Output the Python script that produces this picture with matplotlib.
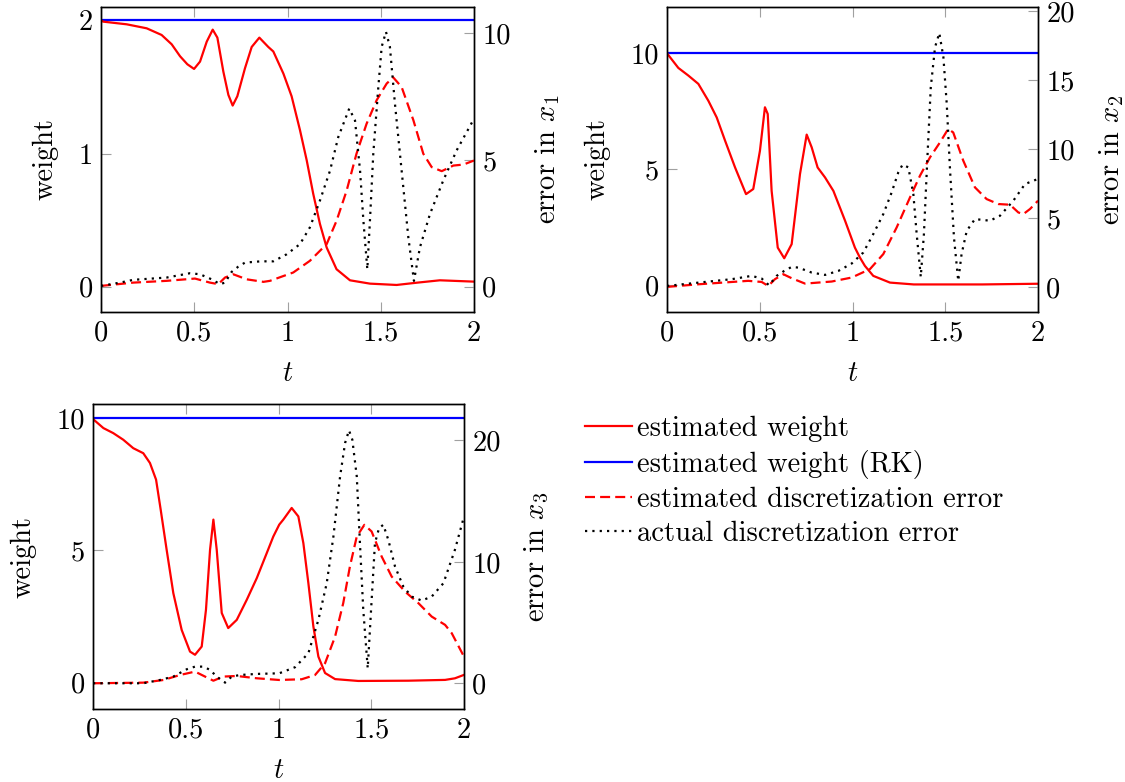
import numpy as np
import matplotlib
matplotlib.use('Agg')
import matplotlib.pyplot as plt
from matplotlib.lines import Line2D

plt.rcParams['font.family'] = 'serif'
plt.rcParams['font.serif'] = ['cmr10', 'DejaVu Serif']
plt.rcParams['mathtext.fontset'] = 'cm'
plt.rcParams['axes.formatter.use_mathtext'] = True
plt.rcParams['axes.unicode_minus'] = False
plt.rcParams['font.size'] = 20.5

# ---- panel 1 (x_1) ----
t1_w = [0, 0.012, 0.138, 0.245, 0.325, 0.379, 0.424, 0.463, 0.499, 0.531, 0.567, 0.599, 0.624, 0.656, 0.683,
        0.706, 0.731, 0.772, 0.808, 0.849, 0.897, 0.924, 0.978, 1.022, 1.067, 1.103, 1.138, 1.174, 1.21, 1.263,
        1.335, 1.442, 1.585, 1.693, 1.817, 2.0]
w1 = [2.0, 1.99, 1.97, 1.94, 1.89, 1.82, 1.73, 1.67, 1.635, 1.69, 1.84, 1.93, 1.87, 1.615, 1.44,
      1.36, 1.43, 1.64, 1.80, 1.87, 1.80, 1.766, 1.60, 1.43, 1.175, 0.949, 0.697, 0.471, 0.294, 0.131,
      0.048, 0.023, 0.013, 0.03, 0.048, 0.038]
rk1 = 2.0
t1_e = [0, 0.173, 0.352, 0.504, 0.584, 0.629, 0.665, 0.709, 0.781, 0.871, 0.906, 1.031, 1.12, 1.21, 1.263,
        1.317, 1.37, 1.424, 1.478, 1.532, 1.567, 1.612, 1.675, 1.728, 1.773, 1.827, 1.889, 1.943, 2.0]
est1 = [0.03, 0.16, 0.23, 0.32, 0.16, 0.1, 0.36, 0.49, 0.29, 0.19, 0.23, 0.56, 1.02, 1.68, 2.6,
        3.79, 5.25, 6.43, 7.36, 8.02, 8.26, 7.88, 6.57, 5.25, 4.72, 4.56, 4.78, 4.82, 4.98]
t1_a = [0, 0.102, 0.173, 0.352, 0.477, 0.531, 0.593, 0.638, 0.665, 0.70, 0.736, 0.772, 0.857, 0.924, 0.996,
        1.067, 1.12, 1.174, 1.228, 1.272, 1.331, 1.362, 1.389, 1.407, 1.428, 1.442, 1.46, 1.487, 1.505, 1.528,
        1.549, 1.576, 1.612, 1.648, 1.678, 1.71, 1.764, 1.835, 1.907, 2.0]
act1 = [0.03, 0.16, 0.27, 0.36, 0.53, 0.49, 0.29, 0.1, 0.16, 0.58, 0.79, 0.95, 1.0, 1.0, 1.28,
        1.68, 2.34, 3.4, 4.58, 5.9, 7.03, 6.56, 4.58, 2.6, 0.69, 2.6, 5.25, 7.88, 9.47, 10.06,
        9.47, 7.23, 4.58, 1.94, 0.23, 1.55, 2.87, 4.19, 5.38, 6.63]

# ---- panel 2 (x_2) ----
t2_w = [0, 0.061, 0.115, 0.169, 0.223, 0.268, 0.313, 0.367, 0.426, 0.465, 0.501, 0.528, 0.543, 0.564, 0.597,
        0.632, 0.672, 0.717, 0.753, 0.78, 0.812, 0.852, 0.897, 0.96, 1.013, 1.04, 1.067, 1.112, 1.202, 1.33,
        1.7, 2.0]
w2 = [10.0, 9.37, 9.04, 8.68, 7.95, 7.23, 6.23, 5.07, 3.92, 4.14, 5.79, 7.67, 7.38, 4.06, 1.61,
      1.15, 1.76, 4.79, 6.49, 5.94, 5.07, 4.64, 4.06, 2.77, 1.61, 1.18, 0.82, 0.39, 0.1, 0.02,
      0.02, 0.05]
rk2 = 10.0
t2_e = [0, 0.169, 0.438, 0.51, 0.546, 0.582, 0.627, 0.672, 0.744, 0.888, 0.996, 1.094, 1.166, 1.238, 1.31,
        1.364, 1.418, 1.472, 1.516, 1.543, 1.597, 1.66, 1.723, 1.786, 1.849, 1.894, 1.921, 1.957, 2.0]
est2 = [0, 0.19, 0.44, 0.36, 0.07, 0.56, 0.92, 0.63, 0.24, 0.39, 0.68, 1.29, 2.38, 4.31, 6.49,
        8.07, 9.4, 10.49, 11.46, 11.2, 9.16, 7.22, 6.37, 6.01, 5.96, 5.4, 5.28, 5.65, 6.25]
t2_a = [0, 0.169, 0.349, 0.456, 0.51, 0.55, 0.591, 0.632, 0.672, 0.708, 0.78, 0.852, 0.924, 0.996, 1.058,
        1.112, 1.166, 1.211, 1.247, 1.27, 1.301, 1.328, 1.346, 1.368, 1.385, 1.403, 1.422, 1.445, 1.468, 1.49,
        1.508, 1.526, 1.547, 1.57, 1.588, 1.616, 1.66, 1.741, 1.795, 1.867, 1.93, 2.0]
act2 = [0.07, 0.31, 0.56, 0.8, 0.61, 0.12, 0.8, 1.16, 1.45, 1.4, 1.04, 0.87, 1.16, 1.7, 2.49,
        3.83, 5.28, 6.85, 8.31, 8.87, 8.67, 6.74, 3.83, 0.73, 3.83, 9.16, 14.48, 17.39, 18.41, 16.66,
        13.28, 8.43, 3.58, 0.44, 2.38, 4.07, 4.92, 4.8, 5.16, 6.25, 7.46, 7.83]

# ---- panel 3 (x_3) ----
t3_w = [0, 0.056, 0.109, 0.163, 0.217, 0.271, 0.307, 0.34, 0.365, 0.397, 0.433, 0.478, 0.523, 0.55, 0.586,
        0.609, 0.631, 0.649, 0.667, 0.694, 0.729, 0.775, 0.829, 0.883, 0.937, 0.972, 1.004, 1.026, 1.071, 1.107,
        1.134, 1.161, 1.188, 1.215, 1.251, 1.305, 1.43, 1.70, 1.898, 1.951, 2.0]
w3 = [9.96, 9.62, 9.43, 9.18, 8.86, 8.67, 8.3, 7.67, 6.53, 5.02, 3.38, 1.99, 1.17, 1.05, 1.36,
      2.75, 5.02, 6.16, 5.02, 2.63, 2.06, 2.37, 3.13, 3.95, 4.9, 5.52, 5.97, 6.16, 6.6, 6.28,
      5.27, 3.76, 2.12, 0.98, 0.36, 0.13, 0.06, 0.07, 0.1, 0.16, 0.29]
rk3 = 10.0
t3_e = [0, 0.271, 0.38, 0.469, 0.55, 0.604, 0.649, 0.702, 0.775, 0.883, 1.004, 1.125, 1.197, 1.251, 1.305,
        1.349, 1.385, 1.422, 1.463, 1.502, 1.556, 1.61, 1.682, 1.754, 1.826, 1.898, 1.934, 2.0]
est3 = [0, 0.05, 0.27, 0.68, 0.96, 0.55, 0.21, 0.55, 0.6, 0.41, 0.27, 0.33, 0.68, 1.65, 3.84,
        6.6, 9.62, 12.09, 13.05, 12.5, 10.44, 8.79, 7.55, 6.6, 5.49, 4.81, 4.12, 2.19]
t3_a = [0, 0.271, 0.361, 0.433, 0.505, 0.55, 0.595, 0.631, 0.667, 0.712, 0.748, 0.792, 0.883, 1.004, 1.089,
        1.161, 1.215, 1.26, 1.296, 1.332, 1.359, 1.38, 1.398, 1.422, 1.439, 1.457, 1.481, 1.499, 1.52, 1.542,
        1.565, 1.592, 1.628, 1.673, 1.718, 1.772, 1.826, 1.889, 1.951, 2.0]
act3 = [0, 0.0, 0.27, 0.55, 1.15, 1.37, 1.37, 1.1, 0.55, 0.05, 0.55, 0.68, 0.77, 0.82, 1.32,
        2.47, 5.22, 8.24, 12.09, 17.03, 19.79, 20.83, 20.06, 17.03, 11.54, 6.04, 1.24, 6.04, 11.54, 12.78,
        13.05, 11.81, 9.62, 7.96, 7.14, 6.81, 7.14, 8.24, 10.99, 13.73]

x_ticks = [0, 0.5, 1, 1.5, 2]
x_tick_labels = ['0', '0.5', '1', '1.5', '2']
legend_labels = ['estimated weight', 'estimated weight (RK)',
                 'estimated discretization error', 'actual discretization error']

RED = '#ff0000'
BLUE = '#0000ff'
LW = 1.6
DASH = (0, (4.5, 2.3))
DOT = (0, (1, 2.3))


def style_ticks(ax):
    ax.tick_params(direction='in', length=7, width=0.8, color='#a0a0a0', pad=6, labelcolor='black')


def panel(fig, rect, tw, w, rk, te, est, ta, act, wlim, wticks, elim, eticks, elabel):
    ax = fig.add_axes(rect)
    ax.plot([0, 2], [rk, rk], color=BLUE, lw=LW)
    ax.plot(tw, w, color=RED, lw=LW)
    ax.set_xlim(0, 2)
    ax.set_ylim(*wlim)
    ax.set_xticks(x_ticks)
    ax.set_xticklabels(x_tick_labels)
    ax.set_yticks(wticks)
    ax.set_yticklabels([str(v) for v in wticks])
    ax.tick_params(top=True)
    style_ticks(ax)
    ax.set_xlabel('$t$', labelpad=10)
    ax.set_ylabel('weight', labelpad=14)

    ax2 = ax.twinx()
    ax2.plot(te, est, color=RED, lw=LW, linestyle=DASH)
    ax2.plot(ta, act, color='black', lw=LW, linestyle=DOT)
    ax2.set_ylim(*elim)
    ax2.set_yticks(eticks)
    ax2.set_yticklabels([str(v) for v in eticks])
    style_ticks(ax2)
    ax2.set_ylabel(elabel, labelpad=16)
    for a in (ax, ax2):
        for s in a.spines.values():
            s.set_linewidth(1.0)
    return ax, ax2


def main():
    fig = plt.figure(figsize=(11.25, 7.82), dpi=100, facecolor='w')

    panel(fig, [101 / 1125, 1 - 312 / 782, 373 / 1125, 305 / 782], t1_w, w1, rk1, t1_e, est1, t1_a, act1,
          (-0.19, 2.1), [0, 1, 2], (-1.0, 11.04), [0, 5, 10], 'error in $x_1$')
    panel(fig, [667 / 1125, 1 - 312 / 782, 371 / 1125, 305 / 782], t2_w, w2, rk2, t2_e, est2, t2_a, act2,
          (-1.17, 12.0), [0, 5, 10], (-1.82, 20.3), [0, 5, 10, 15, 20], 'error in $x_2$')
    panel(fig, [93 / 1125, 1 - 709 / 782, 371 / 1125, 305 / 782], t3_w, w3, rk3, t3_e, est3, t3_a, act3,
          (-1.0, 10.53), [0, 5, 10], (-2.12, 23.0), [0, 10, 20], 'error in $x_3$')

    handles = [Line2D([], [], color=RED, lw=LW),
               Line2D([], [], color=BLUE, lw=LW),
               Line2D([], [], color=RED, lw=LW, linestyle=DASH),
               Line2D([], [], color='black', lw=LW, linestyle=DOT)]
    fig.legend(handles, legend_labels, loc='upper left', bbox_to_anchor=(585 / 1125, 1 - 416 / 782),
               frameon=False, borderpad=0, borderaxespad=0, handlelength=1.65, handletextpad=0.18,
               labelspacing=0.27, fontsize=20.5)

    fig.savefig('out.png', dpi=100, facecolor='w')
    plt.close(fig)


if __name__ == "__main__":
    main()
